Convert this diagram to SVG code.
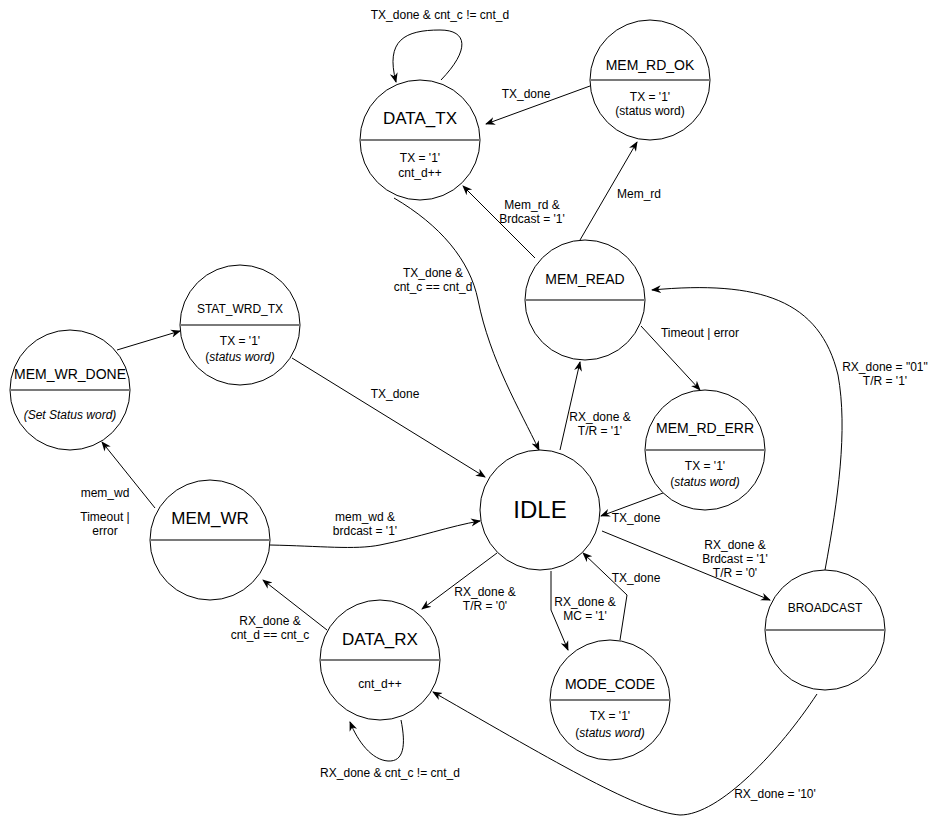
<svg xmlns="http://www.w3.org/2000/svg" width="941" height="817" viewBox="0 0 941 817">
<style>
text{font-family:"Liberation Sans",Arial,sans-serif;fill:#000;text-anchor:middle}
.lbl{font-size:12px}
.t12{font-size:12px}
.t14{font-size:14px}
.t17{font-size:17px}
.t24{font-size:24px}
.st{fill:#fff;stroke:#000;stroke-width:1}
.dv{stroke:#7a7a7a;stroke-width:2}
.e{fill:none;stroke:#000;stroke-width:1;marker-end:url(#arr)}
.i{font-style:italic}
</style>
<defs>
<marker id="arr" viewBox="0 0 10 10" refX="9" refY="5" markerWidth="10" markerHeight="10" orient="auto" markerUnits="userSpaceOnUse">
<path d="M0,1 L10,5 L0,9 L3,5 z" fill="#000"/>
</marker>
</defs>
<rect width="941" height="817" fill="#fff"/>

<g id="connectors">
<path class="e" d="M 441 80 C 470 50, 468 30, 440 30 C 405 30, 385 40, 396 82"/>
<path class="e" d="M 590 86 L 486 124"/>
<path class="e" d="M 535 258 L 463 186"/>
<path class="e" d="M 580 240 L 637 142"/>
<path class="e" d="M 394 198 C 440 225, 470 260, 478 300 C 490 360, 520 410, 539 450"/>
<path class="e" d="M 292 358 L 485 477"/>
<path class="e" d="M 117 350 L 180 331"/>
<path class="e" d="M 155 508 L 102 442"/>
<path class="e" d="M 270 545 C 320 546, 355 550, 380 545 C 420 537, 450 526, 480 521"/>
<path class="e" d="M 560 450 L 580 362"/>
<path class="e" d="M 641 326 L 700 390"/>
<path class="e" d="M 663 493 L 601 516"/>
<path class="e" d="M 602 531 L 770 600"/>
<path class="e" d="M 825 570 C 838 500, 848 430, 838 375 C 820 300, 760 280, 652 290"/>
<path class="e" d="M 497 553 L 422 609"/>
<path class="e" d="M 551 571 L 551 610 L 568 650"/>
<path class="e" d="M 620 640 L 627 595 L 583 553"/>
<path class="e" d="M 327 630 L 263 580"/>
<path class="e" d="M 401 720 C 406 745, 404 762, 388 761 C 372 760, 358 742, 350 722"/>
<path class="e" d="M 817 694 C 780 750, 720 815, 680 815 C 640 812, 560 765, 433 692"/>

<text class="lbl" x="440" y="19">TX_done &amp; cnt_c != cnt_d</text>
<text class="lbl" x="526" y="98">TX_done</text>
<text class="lbl" x="532" y="209">Mem_rd &amp;</text>
<text class="lbl" x="532" y="223">Brdcast = '1'</text>
<text class="lbl" x="639" y="198">Mem_rd</text>
<text class="lbl" x="433" y="277">TX_done &amp;</text>
<text class="lbl" x="433" y="291">cnt_c == cnt_d</text>
<text class="lbl" x="395" y="398">TX_done</text>
<text class="lbl" x="105" y="497">mem_wd</text>
<text class="lbl" x="105" y="521">Timeout |</text>
<text class="lbl" x="105" y="535">error</text>
<text class="lbl" x="365" y="521">mem_wd &amp;</text>
<text class="lbl" x="365" y="535">brdcast = '1'</text>
<text class="lbl" x="600" y="421">RX_done &amp;</text>
<text class="lbl" x="600" y="435">T/R = '1'</text>
<text class="lbl" x="700" y="337">Timeout | error</text>
<text class="lbl" x="636" y="522">TX_done</text>
<text class="lbl" x="735" y="549">RX_done &amp;</text>
<text class="lbl" x="735" y="563">Brdcast = '1'</text>
<text class="lbl" x="735" y="577">T/R = '0'</text>
<text class="lbl" x="885" y="371">RX_done = "01"</text>
<text class="lbl" x="885" y="385">T/R = '1'</text>
<text class="lbl" x="485" y="596">RX_done &amp;</text>
<text class="lbl" x="485" y="610">T/R = '0'</text>
<text class="lbl" x="585" y="606">RX_done &amp;</text>
<text class="lbl" x="585" y="620">MC = '1'</text>
<text class="lbl" x="636" y="582">TX_done</text>
<text class="lbl" x="270" y="625">RX_done &amp;</text>
<text class="lbl" x="270" y="639">cnt_d == cnt_c</text>
<text class="lbl" x="390" y="777">RX_done &amp; cnt_c != cnt_d</text>
<text class="lbl" x="775" y="798">RX_done = '10'</text>
</g>

<g id="DATA_TX">
<circle class="st" cx="420" cy="140" r="60"/>
<line class="dv" x1="360" y1="140" x2="480" y2="140"/>
<text class="t17" x="420" y="124">DATA_TX</text>
<text class="t12" x="420" y="162">TX = '1'</text>
<text class="t12" x="420" y="177">cnt_d++</text>
</g>

<g id="MEM_RD_OK">
<circle class="st" cx="650" cy="80" r="60"/>
<line class="dv" x1="590" y1="80" x2="710" y2="80"/>
<text class="t14" x="650" y="70">MEM_RD_OK</text>
<text class="t12" x="650" y="101">TX = '1'</text>
<text class="t12" x="650" y="115">(status word)</text>
</g>

<g id="MEM_READ">
<circle class="st" cx="585" cy="300" r="60"/>
<line class="dv" x1="525" y1="300" x2="645" y2="300"/>
<text class="t14" x="585" y="284">MEM_READ</text>
</g>

<g id="MEM_RD_ERR">
<circle class="st" cx="705" cy="450" r="60"/>
<line class="dv" x1="645" y1="450" x2="765" y2="450"/>
<text class="t14" x="705" y="433">MEM_RD_ERR</text>
<text class="t12" x="705" y="470">TX = '1'</text>
<text class="t12" x="705" y="486">(<tspan class="i">status word)</tspan></text>
</g>

<g id="IDLE">
<circle class="st" cx="540" cy="510" r="60"/>
<text class="t24" x="540" y="518">IDLE</text>
</g>

<g id="BROADCAST">
<circle class="st" cx="825" cy="630" r="60"/>
<line class="dv" x1="765" y1="630" x2="885" y2="630"/>
<text class="t12" x="825" y="612">BROADCAST</text>
</g>

<g id="MODE_CODE">
<circle class="st" cx="610" cy="700" r="60"/>
<line class="dv" x1="550" y1="700" x2="670" y2="700"/>
<text class="t14" x="610" y="689">MODE_CODE</text>
<text class="t12" x="610" y="720">TX = '1'</text>
<text class="t12" x="610" y="737">(<tspan class="i">status word)</tspan></text>
</g>

<g id="DATA_RX">
<circle class="st" cx="380" cy="660" r="60"/>
<line class="dv" x1="320" y1="660" x2="440" y2="660"/>
<text class="t17" x="380" y="645">DATA_RX</text>
<text class="t12" x="380" y="688">cnt_d++</text>
</g>

<g id="MEM_WR">
<circle class="st" cx="210" cy="540" r="60"/>
<line class="dv" x1="150" y1="540" x2="270" y2="540"/>
<text class="t17" x="210" y="524">MEM_WR</text>
</g>

<g id="MEM_WR_DONE">
<circle class="st" cx="70" cy="390" r="60"/>
<line class="dv" x1="10" y1="390" x2="130" y2="390"/>
<text class="t14" x="70" y="379">MEM_WR_DONE</text>
<text class="t12 i" x="70" y="419">(Set Status word)</text>
</g>

<g id="STAT_WRD_TX">
<circle class="st" cx="240" cy="325" r="60"/>
<line class="dv" x1="180" y1="325" x2="300" y2="325"/>
<text class="t12" x="240" y="313">STAT_WRD_TX</text>
<text class="t12" x="240" y="345">TX = '1'</text>
<text class="t12" x="240" y="361">(<tspan class="i">status word)</tspan></text>
</g>
</svg>
